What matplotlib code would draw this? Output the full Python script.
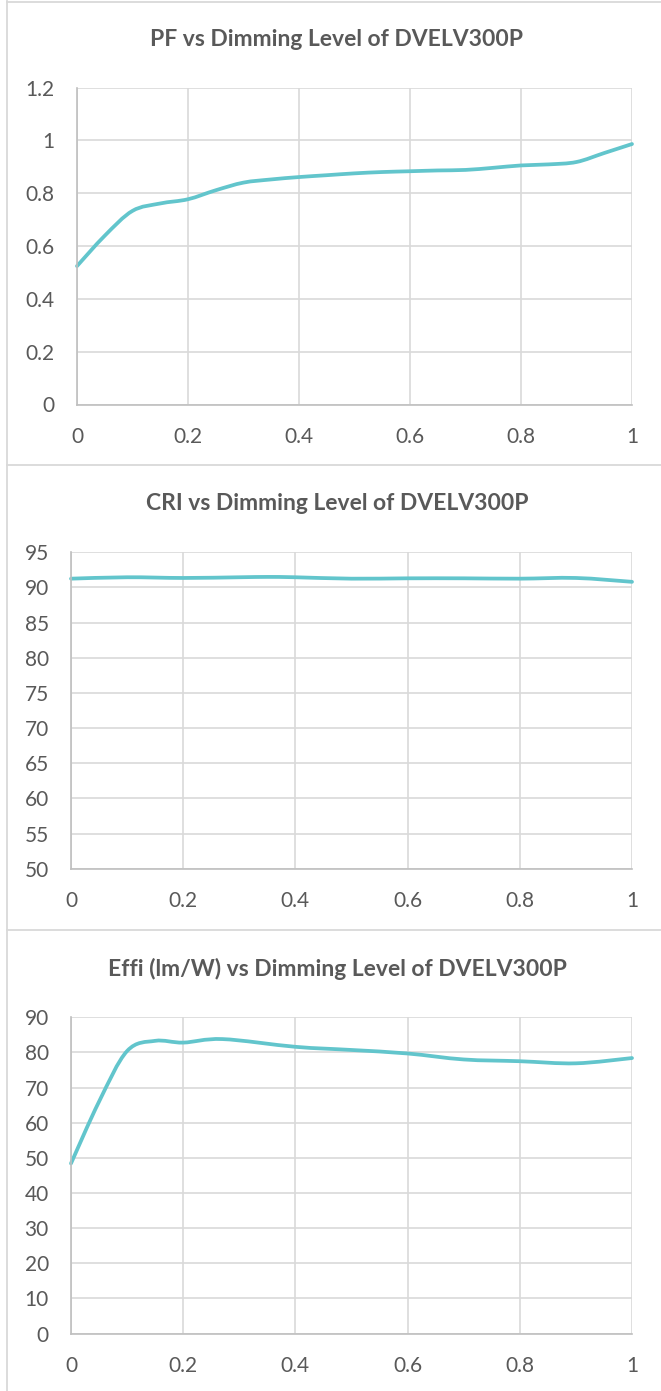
import matplotlib
matplotlib.use("Agg")
import matplotlib.pyplot as plt
from matplotlib.path import Path
from matplotlib.patches import PathPatch
from matplotlib.lines import Line2D

# dimming level (x) and readings
pf_x = [0, 0.05, 0.1, 0.15, 0.2, 0.25, 0.3, 0.35, 0.4, 0.45, 0.5,
        0.55, 0.6, 0.65, 0.7, 0.75, 0.8, 0.85, 0.9, 0.95, 1.0]
pf_y = [0.524, 0.639, 0.733, 0.761, 0.777, 0.811, 0.840, 0.852, 0.861, 0.868, 0.875,
        0.880, 0.883, 0.886, 0.888, 0.896, 0.905, 0.909, 0.918, 0.952, 0.986]

cri_x = [0, 0.1, 0.2, 0.3, 0.35, 0.4, 0.5, 0.6, 0.7, 0.8, 0.9, 1.0]
cri_y = [91.25, 91.45, 91.35, 91.45, 91.5, 91.45, 91.25, 91.3, 91.3, 91.25, 91.35, 90.8]

effi_x = [0, 0.05, 0.1, 0.15, 0.2, 0.27, 0.4, 0.5, 0.6, 0.7, 0.8, 0.9, 1.0]
effi_y = [48.4, 66.0, 80.4, 83.3, 82.8, 83.8, 81.6, 80.7, 79.7, 78.0, 77.5, 76.9, 78.4]

titles = ["PF vs Dimming Level of DVELV300P",
          "CRI vs Dimming Level of DVELV300P",
          "Effi (lm/W) vs Dimming Level of DVELV300P"]
x_ticks = [0, 0.2, 0.4, 0.6, 0.8, 1]
x_labels = ["0", "0.2", "0.4", "0.6", "0.8", "1"]
pf_ticks = [0, 0.2, 0.4, 0.6, 0.8, 1.0, 1.2]
pf_labels = ["0", "0.2", "0.4", "0.6", "0.8", "1", "1.2"]
cri_ticks = list(range(50, 96, 5))
effi_ticks = list(range(0, 91, 10))

LINE = "#62c5cc"
TEXT = "#595959"
GRID = "#d9d9d9"
W, H = 661, 1391


def smooth_path(xs, ys):
    # excel-style smoothed line: cubic bezier through every point
    pts = list(zip(xs, ys))
    n = len(pts)
    verts = [pts[0]]
    codes = [Path.MOVETO]
    for i in range(n - 1):
        p0 = pts[i - 1] if i > 0 else pts[i]
        p1 = pts[i]
        p2 = pts[i + 1]
        p3 = pts[i + 2] if i + 2 < n else pts[i + 1]
        c1 = (p1[0] + (p2[0] - p0[0]) / 6, p1[1] + (p2[1] - p0[1]) / 6)
        c2 = (p2[0] - (p3[0] - p1[0]) / 6, p2[1] - (p3[1] - p1[1]) / 6)
        verts += [c1, c2, p2]
        codes += [Path.CURVE4] * 3
    return Path(verts, codes)


def px_axes(fig, left, top, right, bottom):
    return fig.add_axes([left / W, 1 - bottom / H, (right - left) / W, (bottom - top) / H])


def style_axes(ax, yticks, ylabels, ylim):
    ax.set_xlim(0, 1)
    ax.set_ylim(*ylim)
    ax.set_xticks(x_ticks)
    ax.set_xticklabels(x_labels)
    ax.set_yticks(yticks)
    ax.set_yticklabels(ylabels)
    ax.grid(True, color=GRID, linewidth=1.2)
    ax.set_axisbelow(True)
    for s in ["top", "right"]:
        ax.spines[s].set_visible(False)
    for s in ["left", "bottom"]:
        ax.spines[s].set_color("#bfbfbf")
        ax.spines[s].set_linewidth(1.2)
    ax.tick_params(length=0, labelsize=15, labelcolor=TEXT)
    ax.tick_params(axis="y", pad=16)
    ax.tick_params(axis="x", pad=16)


plt.rcParams["font.family"] = ["Lato", "DejaVu Sans"]
fig = plt.figure(figsize=(W / 100, H / 100), dpi=100)

# chart frames
fig.add_artist(Line2D([7 / W, 7 / W], [0, 1 - 1 / H], color=GRID, linewidth=1.3))
for yy in [1.5, 465, 930]:
    fig.add_artist(Line2D([7 / W, 1], [1 - yy / H, 1 - yy / H], color=GRID, linewidth=1.3))

boxes = [(77, 87.5, 632, 404.5), (71, 552.3, 632, 868.7), (71, 1017.3, 632, 1333.5)]
series = [(pf_x, pf_y), (cri_x, cri_y), (effi_x, effi_y)]
yaxes = [(pf_ticks, pf_labels, (0, 1.2)),
         (cri_ticks, [str(t) for t in cri_ticks], (50, 95)),
         (effi_ticks, [str(t) for t in effi_ticks], (0, 90))]
title_y = [39, 503.5, 968.5]

for box, (xs, ys), (yt, yl, lim), ty, title in zip(boxes, series, yaxes, title_y, titles):
    ax = px_axes(fig, *box)
    style_axes(ax, yt, yl, lim)
    ax.add_patch(PathPatch(smooth_path(xs, ys), facecolor="none", edgecolor=LINE,
                           linewidth=2.7, capstyle="round", joinstyle="round",
                           clip_on=False))
    fig.text(337 / W, 1 - ty / H, title, ha="center", va="center",
             fontsize=16.5, fontweight="bold", color=TEXT)

fig.savefig("out.png", dpi=100)
